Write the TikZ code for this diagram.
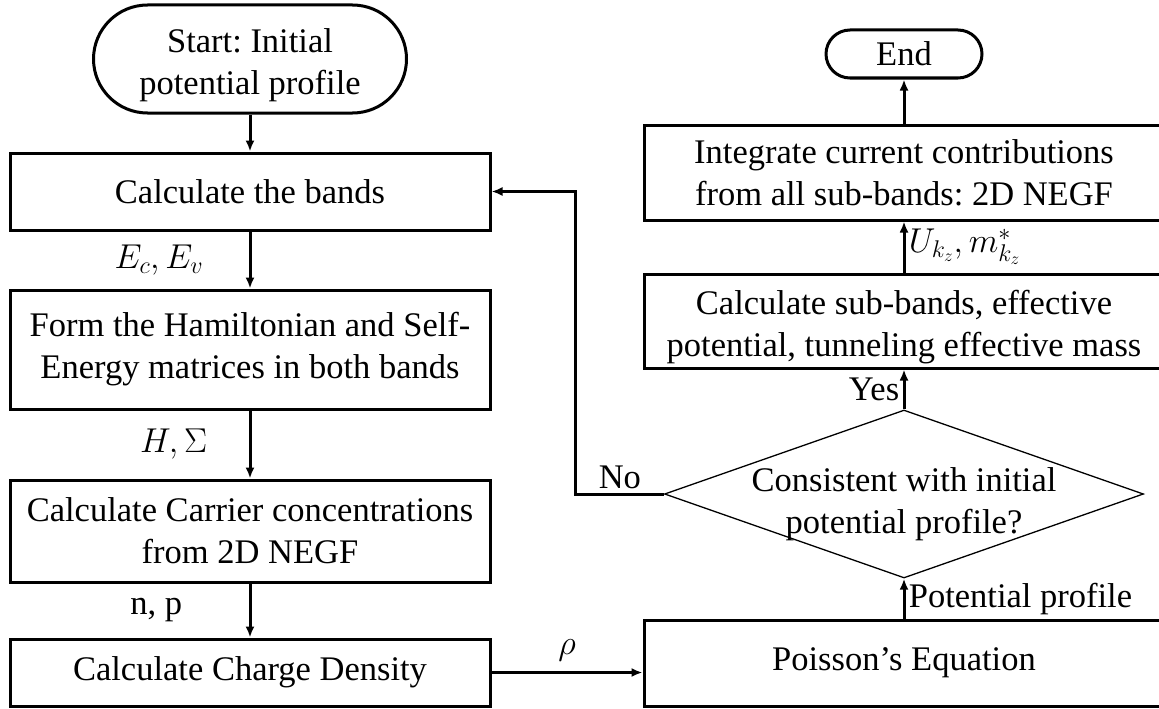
\RequirePackage{fix-cm}
\documentclass[tikz,border=0pt]{standalone}
\usepackage{fontspec}
\setmainfont{Liberation Serif}
\usetikzlibrary{shapes.geometric,arrows.meta}
\frenchspacing

\begin{document}
\begin{tikzpicture}
[x=1pt, y=-1pt,
font=\fontsize{34.5}{42}\selectfont,
box/.style={draw, line width=3pt, rectangle, align=center, inner sep=0pt},
leftbox/.style={box, minimum width=480pt},
rightbox/.style={box, minimum width=520pt},
term/.style={box, rounded corners=#1, minimum height=2*#1},
decision/.style={diamond, aspect=2.85, draw, line width=1.3pt, align=center, minimum width=479pt, minimum height=168pt, inner xsep=-60pt, inner ysep=-20pt},
arr/.style={line width=3pt, -{Latex[length=11pt,width=9pt]}},
]
\useasboundingbox (0,0) rectangle (1159,709);

% left column
\node[term=54pt, minimum width=313pt] (start) at (250,59) {\rule{0pt}{36pt}Start: Initial\\potential profile};
\node[leftbox, minimum height=77pt] (bands) at (250,191.5) {Calculate the bands};
\node[leftbox, minimum height=119pt] (form) at (250,349.5) {Form the Hamiltonian and Self-\\Energy matrices in both bands};
\node[leftbox, minimum height=102pt] (carrier) at (250,531) {Calculate Carrier concentrations\\from 2D NEGF};
\node[leftbox, minimum height=67pt] (charge) at (250,672.5) {Calculate Charge Density};

% right column
\node[rightbox, minimum height=86pt] (poisson) at (904,663) {Poisson's Equation};
\node[decision] (decide) at (904,494) {\rule{0pt}{45pt}Consistent with initial\\potential profile?};
\node[rightbox, minimum height=94pt] (subbands) at (904,321) {\rule{0pt}{36pt}Calculate sub-bands, effective\\potential, tunneling effective mass};
\node[rightbox, minimum height=95pt] (integrate) at (904,172.5) {Integrate current contributions\\from all sub-bands: 2D NEGF};
\node[term=24pt, minimum width=156pt] (end) at (904,54) {End};

\draw[arr] (start) -- (bands);
\draw[arr] (bands) -- node[left=42pt] {$E_c, E_v$} (form);
\draw[arr] (form) -- node[left=38pt] {$H, \Sigma$} (carrier);
\draw[arr] (carrier) -- node[left=63pt] {n, p} (charge);
\draw[arr] (charge.east) -- node[above=6pt] {$\rho$} (charge.east -| poisson.west);
\draw[arr] (poisson) -- node[right] {Potential profile} (decide);
\draw[arr] (decide) -- node[left] {Yes} (subbands);
\draw[arr] (subbands) -- node[right] {$U_{k_z}, m^*_{k_z}$} (integrate);
\draw[arr] (integrate) -- (end);

% loop back
\draw[arr] (decide.west) -- node[above] {No} ++(-88,0) |- (bands.east);
\end{tikzpicture}
\end{document}
